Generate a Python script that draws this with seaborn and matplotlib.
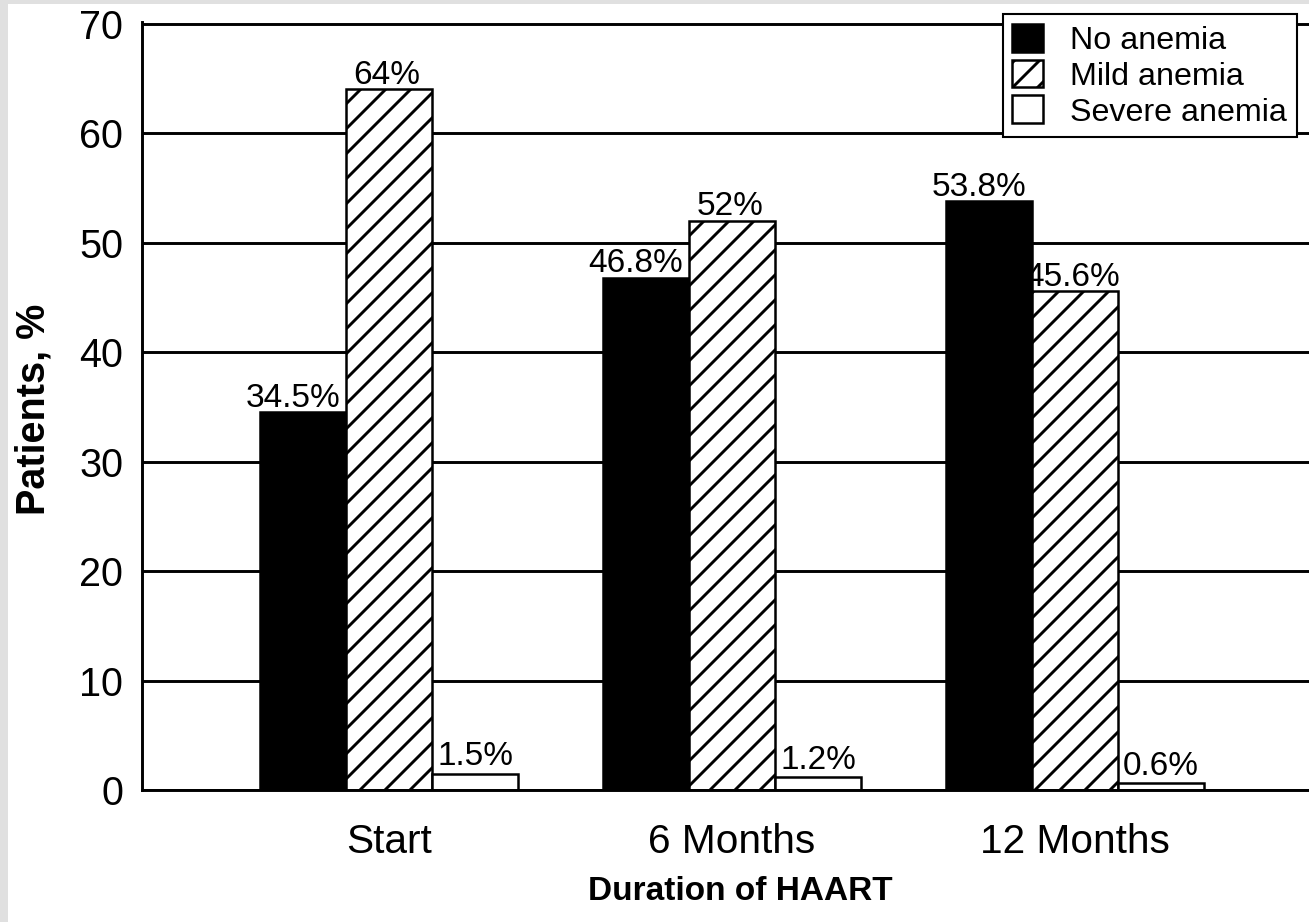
import numpy as np
import pandas as pd
import seaborn as sns
import matplotlib.pyplot as plt
from matplotlib.patches import Rectangle

# values
durations = ['Start', '6 Months', '12 Months']
anemia_groups = ['No anemia', 'Mild anemia', 'Severe anemia']
no_anemia = [34.5, 46.8, 53.8]
mild_anemia = [64, 52, 45.6]
severe_anemia = [1.5, 1.2, 0.6]
y_ticks = [0, 10, 20, 30, 40, 50, 60, 70]

df = pd.DataFrame({
    'duration': durations * 3,
    'group': [g for g in anemia_groups for _ in durations],
    'pct': no_anemia + mild_anemia + severe_anemia,
})

sns.set_style('white')
plt.rcParams['font.family'] = ['Liberation Sans', 'DejaVu Sans']
plt.rcParams['hatch.linewidth'] = 1.4
for key in ['text.color', 'axes.labelcolor', 'xtick.color', 'ytick.color']:
    plt.rcParams[key] = 'black'

DPI = 150
fig = plt.figure(figsize=(1310 / DPI, 922 / DPI), dpi=DPI, facecolor='#e0e0e0')
# white page with the grey scan border on the left and top
fig.patches.append(Rectangle((8 / 1310, 0), 1, 918 / 922, transform=fig.transFigure,
                             facecolor='white', edgecolor='none', zorder=-5))
ax = fig.add_axes([142 / 1310, 132 / 922, 1168 / 1310, 768 / 922])
ax.set_facecolor('none')

sns.barplot(data=df, x='duration', y='pct', hue='group', order=durations,
            hue_order=anemia_groups, palette=['black', 'white', 'white'],
            edgecolor='black', linewidth=1.2, width=0.75, saturation=1,
            legend=False, ax=ax, zorder=3)

for bar in ax.containers[1]:
    bar.set_hatch('//')

# value labels
for i, cont in enumerate(ax.containers):
    for bar in cont:
        h = bar.get_height()
        txt = f'{h:g}%'
        if i == 0:
            ax.annotate(txt, (bar.get_x() + bar.get_width() / 2, h), xytext=(-5, 2.5),
                        textcoords='offset points', ha='center', va='baseline', fontsize=16)
        elif i == 1:
            ax.annotate(txt, (bar.get_x() + bar.get_width() / 2, h), xytext=(-1, 2.5),
                        textcoords='offset points', ha='center', va='baseline', fontsize=16)
        else:
            ax.annotate(txt, (bar.get_x(), h), xytext=(2.5, 4),
                        textcoords='offset points', ha='left', va='baseline', fontsize=16)

ax.set_xlim(-0.72, 2.685)
ax.set_ylim(0, 70.15)
ax.set_yticks(y_ticks)
ax.yaxis.grid(True, color='black', linewidth=1.4)
ax.xaxis.grid(False)
ax.set_axisbelow(True)
ax.tick_params(axis='y', length=0, pad=9, labelsize=19)
ax.tick_params(axis='x', length=0, pad=16, labelsize=19.5)

for side in ['top', 'right']:
    ax.spines[side].set_visible(False)
for side in ['left', 'bottom']:
    ax.spines[side].set_color('black')
    ax.spines[side].set_linewidth(1.4)
    ax.spines[side].set_zorder(4)

ax.set_xlabel('Duration of HAART', fontsize=16, fontweight='bold')
ax.set_ylabel('Patients, %', fontsize=19, fontweight='bold')
ax.xaxis.set_label_coords(0.512, -0.112)
ax.yaxis.set_label_coords(-0.0762, 0.495)

leg = ax.legend(ax.containers, anemia_groups, loc='upper right',
                bbox_to_anchor=(1297 / 1310, 1 - 14 / 922), bbox_transform=fig.transFigure,
                fontsize=15.5, frameon=True, fancybox=False, edgecolor='black',
                handlelength=0.95, handleheight=0.95, labelspacing=0.12,
                handletextpad=0.85, borderpad=0.3, borderaxespad=0)
leg.get_frame().set_linewidth(1.0)
leg.get_frame().set_alpha(1)
leg.set_zorder(10)

fig.savefig('out.png', dpi=DPI, facecolor=fig.get_facecolor())
